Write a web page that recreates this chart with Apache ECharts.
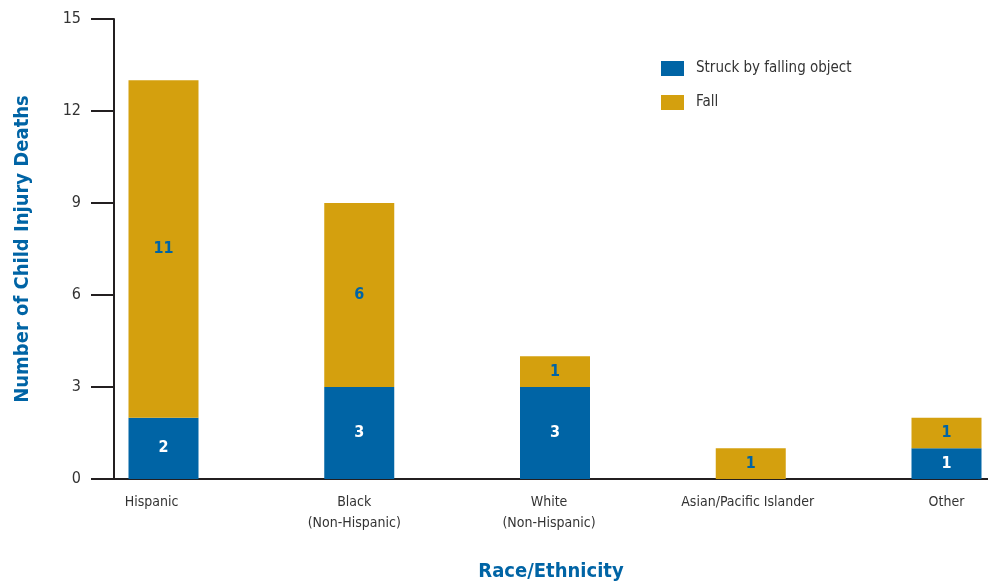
<!DOCTYPE html>
<html>
<head>
<meta charset="utf-8">
<script src="https://cdn.jsdelivr.net/npm/echarts@6/dist/echarts.min.js"></script>
<style>
html,body{margin:0;padding:0;background:#fff;}
#chart{width:988px;height:585px;}
</style>
</head>
<body>
<div id="chart"></div>
<script>
var categories = ['Hispanic', 'Black\n(Non-Hispanic)', 'White\n(Non-Hispanic)', 'Asian/Pacific Islander', 'Other'];
var struckValues = [2, 3, 3, 0, 1];
var fallValues = [11, 6, 1, 1, 1];
var yTicks = [0, 3, 6, 9, 12, 15];
var labelShift = [24, 10, 12, 6, 0];

var FONT = '"Liberation Sans Narrow", "DejaVu Sans Condensed", "Roboto", sans-serif';
var BLUE = '#0064a5';
var GOLD = '#d4a00e';
var AXIS = '#231f20';

var AXIS_X = 114;
var FIRST_CENTER = 163.5;
var BAND = 195.75;
var GRID_LEFT = FIRST_CENTER - BAND / 2;
var GRID_WIDTH = BAND * categories.length;

var chart = echarts.init(document.getElementById('chart'));

var rich = {};
labelShift.forEach(function (s, i) {
  rich['c' + i] = {
    fontFamily: FONT, fontSize: 14, color: '#333', lineHeight: 21,
    align: 'center', padding: [0, s, 0, 0]
  };
});

function valueLabel(p) { return p.value > 0 ? String(p.value) : ''; }

chart.setOption({
  animation: false,
  textStyle: { fontFamily: FONT },
  grid: [
    { left: GRID_LEFT, width: GRID_WIDTH, top: 19, bottom: 106, containLabel: false, outerBoundsMode: 'none' },
    { left: AXIS_X, right: 0, top: 19, bottom: 106, containLabel: false, outerBoundsMode: 'none' }
  ],
  legend: {
    orient: 'vertical', left: 656, top: 56,
    itemWidth: 23, itemHeight: 15, itemGap: 19, icon: 'rect',
    textStyle: { fontFamily: FONT, fontSize: 15, color: '#333', padding: [0, 0, 0, 7] },
    data: ['Struck by falling object', 'Fall']
  },
  xAxis: [
    {
      type: 'category', gridIndex: 0, data: categories, boundaryGap: true,
      axisLine: { show: false },
      axisTick: { show: false },
      splitLine: { show: false },
      axisLabel: {
        interval: 0, margin: 13,
        formatter: function (v, i) {
          return v.split('\n').map(function (t) { return '{c' + i + '|' + t + '}'; }).join('\n');
        },
        rich: rich
      }
    },
    {
      type: 'value', gridIndex: 1, min: 0, max: 1,
      axisLine: { show: true, lineStyle: { color: AXIS, width: 2 } },
      axisTick: { show: false }, axisLabel: { show: false }, splitLine: { show: false },
      name: 'Race/Ethnicity',
      nameLocation: 'middle',
      nameGap: 83,
      nameTextStyle: { fontFamily: FONT, fontSize: 20, fontWeight: 'bold', color: BLUE }
    }
  ],
  yAxis: [
    {
      type: 'value', gridIndex: 0, min: 0, max: 15, interval: 3,
      offset: -(AXIS_X - GRID_LEFT),
      splitLine: { show: false },
      axisLine: { show: true, onZero: false, lineStyle: { color: AXIS, width: 2 } },
      axisTick: { show: true, length: 23, lineStyle: { color: AXIS, width: 2 } },
      axisLabel: {
        margin: 33, fontFamily: FONT, fontSize: 16, color: '#333',
        formatter: function (v) { return yTicks.indexOf(v) >= 0 ? String(v) : ''; }
      },
      name: 'Number of Child Injury Deaths',
      nameLocation: 'middle',
      nameGap: 81,
      nameTextStyle: { fontFamily: FONT, fontSize: 20, fontWeight: 'bold', color: BLUE }
    },
    {
      type: 'value', gridIndex: 1, min: 0, max: 1, show: false
    }
  ],
  series: [
    {
      name: 'Struck by falling object', type: 'bar', stack: 'total', barWidth: 70,
      xAxisIndex: 0, yAxisIndex: 0,
      itemStyle: { color: BLUE },
      label: {
        show: true, position: 'inside', color: '#fff', fontFamily: FONT, fontSize: 16, fontWeight: 'bold',
        formatter: valueLabel
      },
      data: struckValues
    },
    {
      name: 'Fall', type: 'bar', stack: 'total', barWidth: 70,
      xAxisIndex: 0, yAxisIndex: 0,
      itemStyle: { color: GOLD },
      label: {
        show: true, position: 'inside', color: BLUE, fontFamily: FONT, fontSize: 16, fontWeight: 'bold',
        formatter: valueLabel
      },
      data: fallValues
    }
  ]
});
</script>
</body>
</html>
